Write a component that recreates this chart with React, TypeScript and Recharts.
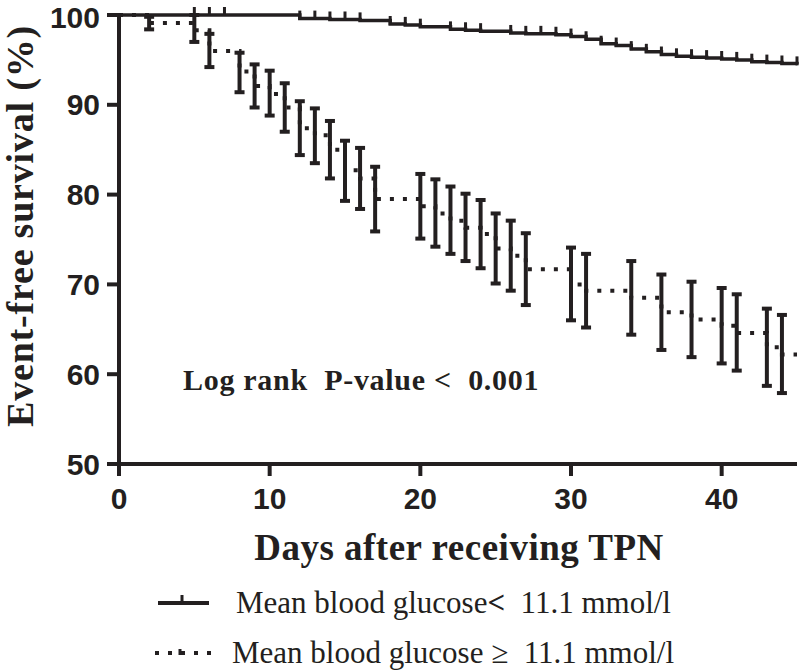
import { ComposedChart, ErrorBar, Line, Scatter, XAxis, YAxis } from "recharts";

const INK = "#231f20";
const SANS = '"Liberation Sans", Arial, sans-serif';
const SERIF = '"Liberation Serif", "Times New Roman", serif';

// Mean blood glucose < 11.1 mmol/l (solid step curve with small ticks)
const lowDays = [0, 5, 6, 7, 12, 13, 14, 15, 16, 18, 19, 20, 22, 23, 24, 26, 27, 28, 29, 30, 31, 32, 33, 34, 35, 36, 37, 38, 39, 40, 41, 42, 43, 44, 45];
const lowSurvival = [100, 100, 100, 100, 99.6, 99.6, 99.5, 99.5, 99.4, 99.0, 98.9, 98.7, 98.4, 98.3, 98.2, 98.0, 97.9, 97.9, 97.8, 97.6, 97.3, 96.8, 96.6, 96.2, 95.9, 95.6, 95.4, 95.3, 95.2, 95.1, 95.0, 94.8, 94.7, 94.6, 94.5];

// Mean blood glucose >= 11.1 mmol/l (dotted step curve with error bars)
const highDays = [0, 2, 5, 6, 8, 9, 10, 11, 12, 13, 14, 15, 16, 17, 20, 21, 22, 23, 24, 25, 26, 27, 30, 31, 34, 36, 38, 40, 41, 43, 44, 45];
const highSurvival = [100, 99.1, 98.3, 96.0, 93.7, 92.1, 91.2, 89.7, 87.4, 86.6, 85.0, 82.7, 81.8, 79.5, 78.7, 77.9, 77.1, 76.3, 75.6, 74.0, 73.2, 71.7, 70.0, 69.3, 68.5, 66.9, 66.1, 65.4, 64.6, 63.0, 62.2, 62.2];
const highLower = [null, 98.4, 97.0, 94.2, 91.4, 89.7, 88.8, 87.0, 84.4, 83.5, 81.8, 79.3, 78.4, 75.9, 75.1, 74.2, 73.4, 72.6, 71.8, 70.1, 69.3, 67.7, 66.0, 65.2, 64.4, 62.7, 61.9, 61.2, 60.4, 58.7, 57.9, null];
const highUpper = [null, 99.8, 100, 97.9, 95.8, 94.5, 93.8, 92.4, 90.4, 89.6, 88.2, 86.0, 85.2, 83.1, 82.3, 81.7, 80.9, 80.1, 79.4, 77.9, 77.1, 75.7, 74.1, 73.4, 72.6, 71.1, 70.3, 69.6, 68.9, 67.3, 66.6, null];

const xTicks = [0, 10, 20, 30, 40];
const yTicks = [50, 60, 70, 80, 90, 100];

const lowRows = lowDays.map((day, i) => ({ day, s: lowSurvival[i] }));
const lowTickRows = lowRows.filter((r) => r.day > 0);
const highRows = highDays.map((day, i) => ({ day, s: highSurvival[i] }));
const highBarRows = highDays
  .map((day, i) => ({
    day,
    s: highSurvival[i],
    lo: highLower[i],
    hi: highUpper[i],
  }))
  .filter((r) => r.lo != null && r.hi != null)
  .map((r) => ({ ...r, err: [r.s - (r.lo as number), (r.hi as number) - r.s] }));

const tickStyle = { fill: INK, fontSize: 30, fontWeight: 700, fontFamily: SANS };
const axisLine = { stroke: INK, strokeWidth: 4 };

function UpTick(props: { cx?: number; cy?: number }) {
  const { cx = 0, cy = 0 } = props;
  return <line x1={cx} x2={cx} y1={cy + 1} y2={cy - 8} stroke={INK} strokeWidth={3} />;
}

function YTitle() {
  return (
    <text
      x={33}
      y={226}
      transform="rotate(-90 33 226)"
      textAnchor="middle"
      fontFamily={SERIF}
      fontWeight={700}
      fontSize={38}
      letterSpacing={0.8}
      fill={INK}
    >
      Event-free survival (%)
    </text>
  );
}

function XTitle() {
  return (
    <text
      x={459}
      y={560}
      textAnchor="middle"
      fontFamily={SERIF}
      fontWeight={700}
      fontSize={37}
      letterSpacing={0.5}
      fill={INK}
    >
      Days after receiving TPN
    </text>
  );
}

export default function App() {
  return (
    <div style={{ position: "absolute", left: 0, top: 0, width: 800, height: 670, background: "#fff" }}>
      <ComposedChart width={800} height={670} margin={{ top: 15, right: 3, bottom: 146, left: 0 }}>
        <XAxis
          type="number"
          dataKey="day"
          domain={[0, 45]}
          ticks={xTicks}
          tickSize={12}
          tickMargin={12}
          height={60}
          axisLine={axisLine}
          tickLine={axisLine}
          tick={tickStyle}
          label={<XTitle />}
        />
        <YAxis
          type="number"
          dataKey="s"
          domain={[50, 100]}
          ticks={yTicks}
          tickSize={12}
          tickMargin={7}
          width={119}
          axisLine={axisLine}
          tickLine={axisLine}
          tick={tickStyle}
          label={<YTitle />}
        />
        <Line
          data={highRows}
          dataKey="s"
          type="stepAfter"
          stroke={INK}
          strokeWidth={4}
          strokeDasharray="4 9"
          dot={false}
          activeDot={false}
          isAnimationActive={false}
        />
        <Scatter data={highBarRows} dataKey="s" shape={() => <g />} isAnimationActive={false}>
          <ErrorBar dataKey="err" direction="y" width={5} stroke={INK} strokeWidth={4} isAnimationActive={false} />
        </Scatter>
        <Line
          data={lowRows}
          dataKey="s"
          type="stepAfter"
          stroke={INK}
          strokeWidth={3.5}
          dot={false}
          activeDot={false}
          isAnimationActive={false}
        />
        <Scatter data={lowTickRows} dataKey="s" shape={(p: any) => <UpTick cx={p.cx} cy={p.cy} />} isAnimationActive={false} />
      </ComposedChart>
      <svg width={800} height={670} style={{ position: "absolute", left: 0, top: 0, pointerEvents: "none" }}>
        <text x={183} y={390} fontFamily={SERIF} fontWeight={700} fontSize={30} letterSpacing={0.7} fill={INK} style={{ whiteSpace: "pre" }}>
          {"Log rank  P-value <  0.001"}
        </text>
        <line x1={158} x2={209} y1={603} y2={603} stroke={INK} strokeWidth={4} />
        <line x1={182} x2={182} y1={603} y2={595} stroke={INK} strokeWidth={3} />
        <text x={236} y={613} fontFamily={SERIF} fontSize={31} fill={INK} style={{ whiteSpace: "pre" }}>
          {"Mean blood glucose"}
          <tspan fontWeight={700}>{"<"}</tspan>
          {"  11.1 mmol/l"}
        </text>
        <line x1={155} x2={215} y1={653} y2={653} stroke={INK} strokeWidth={4} strokeDasharray="4 9" />
        <line x1={180} x2={180} y1={655} y2={649} stroke={INK} strokeWidth={3} />
        <text x={232} y={663} fontFamily={SERIF} fontSize={31} fill={INK} style={{ whiteSpace: "pre" }}>
          {"Mean blood glucose \u2265  11.1 mmol/l"}
        </text>
      </svg>
    </div>
  );
}
